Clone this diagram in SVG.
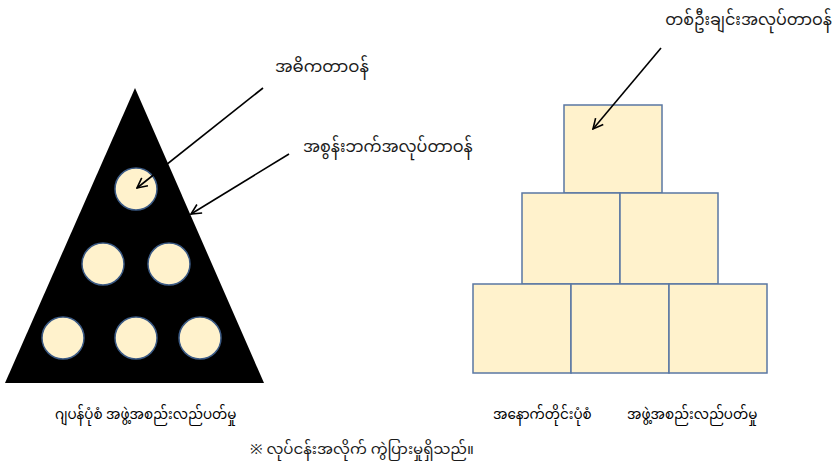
<svg xmlns="http://www.w3.org/2000/svg" width="836" height="466" viewBox="0 0 836 466">
<style>
.lbl{font-family:"Noto Sans Myanmar","Padauk","Myanmar Text","Noto Sans",sans-serif;font-size:16.5px;fill:#1a1a1a}
.cap{font-size:13.5px;fill:#000}
.note{font-size:15px}
.cir{fill:#FFF2CC;stroke:#3B5A85;stroke-width:1.5}
.box{fill:#FFF2CC;stroke:#5A77A3;stroke-width:1.5}
.con{stroke:#000;stroke-width:1.6;fill:none;marker-end:url(#arr)}
</style>
<defs>
<marker id="arr" viewBox="0 0 12 12" refX="11" refY="6" markerWidth="12" markerHeight="12" markerUnits="userSpaceOnUse" orient="auto">
<path d="M1,1 L11,6 L1,11" fill="none" stroke="#000" stroke-width="1.6"/>
</marker>
</defs>
<rect width="836" height="466" fill="#fff"/>
<g id="japan-pyramid">
<polygon points="135,88 5,383 264,383" fill="#000"/>
<circle class="cir" cx="136" cy="189" r="21"/>
<circle class="cir" cx="103" cy="264" r="21"/>
<circle class="cir" cx="169" cy="264" r="21"/>
<circle class="cir" cx="63" cy="338" r="21"/>
<circle class="cir" cx="136" cy="338" r="21"/>
<circle class="cir" cx="200" cy="338" r="21"/>
</g>
<g id="western-pyramid">
<rect class="box" x="564" y="105" width="98" height="88"/>
<rect class="box" x="522" y="193" width="98" height="91"/>
<rect class="box" x="620" y="193" width="98" height="91"/>
<rect class="box" x="473" y="284" width="98" height="89"/>
<rect class="box" x="571" y="284" width="98" height="89"/>
<rect class="box" x="669" y="284" width="98" height="89"/>
</g>
<g id="connectors">
<line class="con" x1="263" y1="88" x2="137" y2="188"/>
<line class="con" x1="289" y1="154" x2="191" y2="214"/>
<line class="con" x1="661" y1="48" x2="593" y2="129"/>
</g>
<g id="labels">
<text class="lbl" x="275" y="72">အဓိကတာဝန်</text>
<text class="lbl" x="303" y="152" style="font-size:16px">အစွန်းဘက်အလုပ်တာဝန်</text>
<text class="lbl" x="832" y="25" text-anchor="end" style="font-size:16px">တစ်ဦးချင်းအလုပ်တာဝန်</text>
<text class="lbl cap" x="55" y="419">ဂျပန်ပုံစံ အဖွဲ့အစည်းလည်ပတ်မှု</text>
<text class="lbl cap" x="493" y="419"><tspan>အနောက်တိုင်းပုံစံ </tspan><tspan x="627">အဖွဲ့အစည်းလည်ပတ်မှု</tspan></text>
<text class="lbl note" x="250" y="454">※ လုပ်ငန်းအလိုက် ကွဲပြားမှုရှိသည်။</text>
</g>
</svg>
